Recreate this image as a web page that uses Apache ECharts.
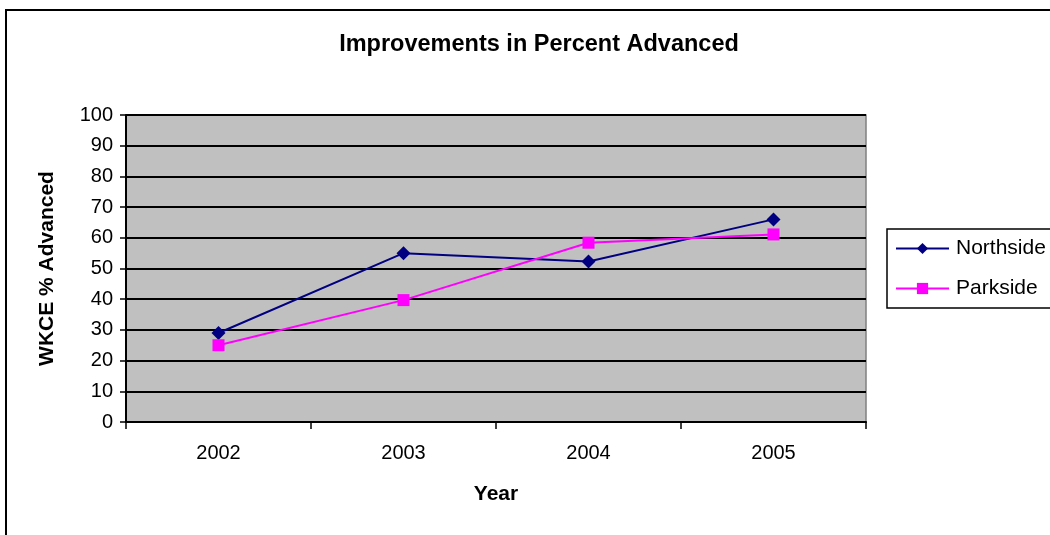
<!DOCTYPE html>
<html>
<head>
<meta charset="utf-8">
<script src="https://cdn.jsdelivr.net/npm/echarts@6/dist/echarts.min.js"></script>
<style>
  html, body { margin: 0; padding: 0; background: #fff; }
  #chart { width: 1050px; height: 535px; }
</style>
</head>
<body>
<div id="chart"></div>
<script>
// chart data
const years = ['2002', '2003', '2004', '2005']
const northside = [29, 55, 52.3, 66]
const parkside = [25, 39.7, 58.4, 61.1]

const chart = echarts.init(document.getElementById('chart'))
const font = 'Liberation Sans, Arial, sans-serif'

chart.setOption({
  animation: false,
  textStyle: { fontFamily: font },
  title: {
    text: 'Improvements in Percent Advanced',
    left: 534,
    top: 28,
    textAlign: 'center',
    textStyle: { fontSize: 23.5, fontWeight: 'bold', color: '#000', fontFamily: font }
  },
  graphic: [{
    type: 'rect',
    shape: { x: 6, y: 10, width: 1100, height: 600 },
    style: { fill: 'none', stroke: '#000', lineWidth: 2 },
    silent: true
  }],
  legend: {
    orient: 'vertical',
    left: 887,
    top: 229,
    width: 162,
    padding: [9, 6, 9, 8],
    itemGap: 19,
    itemWidth: 53,
    itemHeight: 14,
    borderColor: '#000',
    borderWidth: 1.5,
    textStyle: { fontSize: 21, color: '#000', fontFamily: font, padding: [0, 0, 0, 2] },
    data: ['Northside', 'Parkside']
  },
  grid: {
    left: 126,
    top: 115,
    right: 184,
    bottom: 113,
    show: true,
    backgroundColor: '#c0c0c0',
    borderColor: '#808080',
    borderWidth: 1.5
  },
  xAxis: {
    type: 'category',
    data: years,
    boundaryGap: true,
    name: 'Year',
    nameLocation: 'middle',
    nameGap: 62,
    nameTextStyle: { fontSize: 21, fontWeight: 'bold', color: '#000', fontFamily: font },
    axisLine: { lineStyle: { color: '#000', width: 2 } },
    axisTick: { show: true, length: 7, alignWithLabel: false, lineStyle: { color: '#000', width: 1.5 } },
    axisLabel: { fontSize: 20, color: '#000', margin: 21, fontFamily: font },
    splitLine: { show: false }
  },
  yAxis: {
    type: 'value',
    min: 0,
    max: 100,
    interval: 10,
    name: 'WKCE % Advanced',
    nameLocation: 'middle',
    nameGap: 68,
    nameTextStyle: { fontSize: 21, fontWeight: 'bold', color: '#000', fontFamily: font },
    axisLine: { show: true, lineStyle: { color: '#000', width: 2 } },
    axisTick: { show: true, length: 6, lineStyle: { color: '#000', width: 1.5 } },
    axisLabel: { fontSize: 20, color: '#000', margin: 13, fontFamily: font },
    splitLine: { show: true, lineStyle: { color: '#000', width: 2 } }
  },
  series: [
    {
      name: 'Northside',
      type: 'line',
      data: northside,
      symbol: 'diamond',
      symbolSize: 14,
      color: '#000080',
      lineStyle: { color: '#000080', width: 2 },
      itemStyle: { color: '#000080' }
    },
    {
      name: 'Parkside',
      type: 'line',
      data: parkside,
      symbol: 'rect',
      symbolSize: 12,
      color: '#ff00ff',
      lineStyle: { color: '#ff00ff', width: 2 },
      itemStyle: { color: '#ff00ff' }
    }
  ]
})

window.addEventListener('resize', function () {
  chart.resize()
})
</script>
</body>
</html>
